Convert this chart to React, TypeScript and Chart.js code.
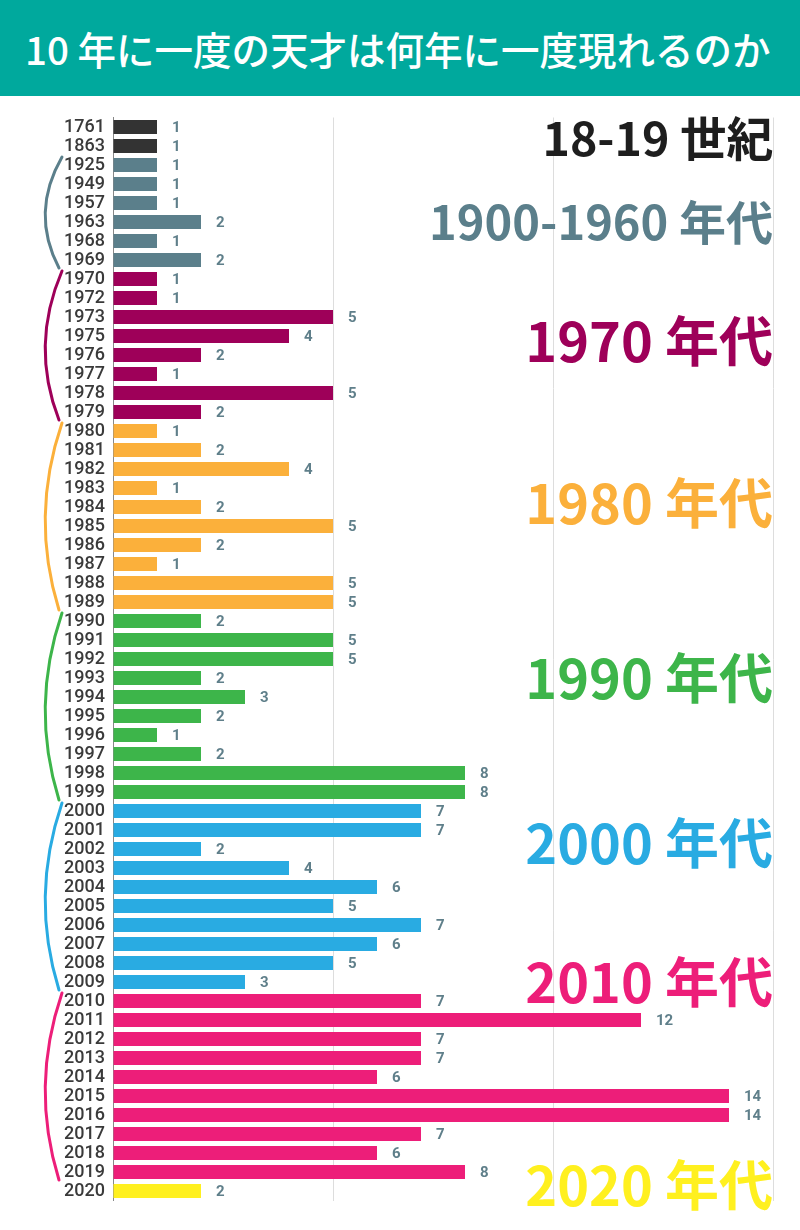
import React, { useEffect, useRef } from "react";
import { Chart, registerables } from "chart.js";

Chart.register(...registerables);

const years = [
  "1761", "1863",
  "1925", "1949", "1957", "1963", "1968", "1969",
  "1970", "1972", "1973", "1975", "1976", "1977", "1978", "1979",
  "1980", "1981", "1982", "1983", "1984", "1985", "1986", "1987", "1988", "1989",
  "1990", "1991", "1992", "1993", "1994", "1995", "1996", "1997", "1998", "1999",
  "2000", "2001", "2002", "2003", "2004", "2005", "2006", "2007", "2008", "2009",
  "2010", "2011", "2012", "2013", "2014", "2015", "2016", "2017", "2018", "2019",
  "2020",
];

const counts = [
  1, 1,
  1, 1, 1, 2, 1, 2,
  1, 1, 5, 4, 2, 1, 5, 2,
  1, 2, 4, 1, 2, 5, 2, 1, 5, 5,
  2, 5, 5, 2, 3, 2, 1, 2, 8, 8,
  7, 7, 2, 4, 6, 5, 7, 6, 5, 3,
  7, 12, 7, 7, 6, 14, 14, 7, 6, 8,
  2,
];

const groupNames = [
  "18-19 世紀",
  "1900-1960 年代",
  "1970 年代",
  "1980 年代",
  "1990 年代",
  "2000 年代",
  "2010 年代",
  "2020 年代",
];
const groupSizes = [2, 6, 8, 10, 10, 10, 10, 1];
const groupColors = [
  "#1e1e1e",
  "#5b7f8b",
  "#9e0059",
  "#fbb03b",
  "#3db54a",
  "#29abe2",
  "#ed1e79",
  "#fff01f",
];

const tickValues = [0, 5, 10, 15];

// decoration settings (not data)
const labelRowAnchors = [0.6, 5.0, 11.3, 19.8, 29.0, 37.7, 45.0, 55.7];
const labelFontSizes = [46.5, 47, 54, 54, 54, 54, 54, 54];
const bracketShown = [false, true, true, true, true, true, true, false];

const barColors: string[] = [];
groupSizes.forEach((n, g) => {
  for (let i = 0; i < n; i++) barColors.push(g === 0 ? "#333333" : groupColors[g]);
});

const CJK = "'Noto Sans CJK JP', 'Noto Sans', sans-serif";

const decoPlugin = {
  id: "deco",
  afterDatasetsDraw(chart: any) {
    const ctx = chart.ctx;
    const y = chart.scales.y;
    const area = chart.chartArea;
    const meta = chart.getDatasetMeta(0);
    // value labels
    ctx.save();
    ctx.font = "bold 15px Roboto, sans-serif";
    ctx.fillStyle = "#5f7f8a";
    ctx.textAlign = "left";
    ctx.textBaseline = "middle";
    meta.data.forEach((bar: any, i: number) => {
      ctx.fillText(String(counts[i]), bar.x + 15, bar.y + 1);
    });
    ctx.restore();

    const p0 = y.getPixelForValue(0);
    const step = y.getPixelForValue(1) - p0;

    // group labels
    ctx.save();
    ctx.textAlign = "right";
    ctx.textBaseline = "middle";
    groupNames.forEach((name, g) => {
      ctx.font = `bold ${labelFontSizes[g]}px ${CJK}`;
      ctx.fillStyle = groupColors[g];
      ctx.fillText(name, area.right, p0 + labelRowAnchors[g] * step);
    });
    ctx.restore();

    // brackets
    ctx.save();
    ctx.lineWidth = 3;
    ctx.lineCap = "round";
    let start = 0;
    groupSizes.forEach((n, g) => {
      const first = start;
      const last = start + n - 1;
      start += n;
      if (!bracketShown[g]) return;
      const top = y.getPixelForValue(first) - 8;
      const bot = y.getPixelForValue(last) + 8;
      ctx.strokeStyle = groupColors[g];
      ctx.beginPath();
      ctx.moveTo(62, top);
      ctx.quadraticCurveTo(30, (top + bot) / 2, 59, bot);
      ctx.stroke();
    });
    ctx.restore();
  },
};

export default function App() {
  const ref = useRef<HTMLCanvasElement>(null);

  useEffect(() => {
    if (!ref.current) return;
    const chart = new Chart(ref.current, {
      type: "bar",
      data: {
        labels: years,
        datasets: [
          {
            data: counts,
            backgroundColor: barColors,
            borderWidth: 0,
            barPercentage: 0.74,
            categoryPercentage: 1,
          },
        ],
      },
      options: {
        indexAxis: "y",
        responsive: false,
        animation: false,
        devicePixelRatio: 1,
        layout: { padding: { left: 0, right: 27, top: 21.5, bottom: 29.5 } },
        plugins: {
          legend: { display: false },
          tooltip: { enabled: false },
        },
        scales: {
          x: {
            min: 0,
            max: 15,
            afterBuildTicks(scale: any) {
              scale.ticks = tickValues.map((v) => ({ value: v }));
            },
            afterFit(scale: any) {
              scale.height = 0;
            },
            ticks: { display: false },
            grid: {
              drawTicks: false,
              color: (c: any) => (c.tick && c.tick.value === 0 ? "rgba(0,0,0,0)" : "#dddddd"),
              lineWidth: 1,
            },
            border: { display: false },
          },
          y: {
            afterFit(scale: any) {
              scale.width = 113;
            },
            grid: { display: false, drawTicks: false },
            border: { display: true, color: "#888888", width: 1 },
            ticks: {
              autoSkip: false,
              padding: 8,
              color: "#3a3a3a",
              font: { family: "Roboto, sans-serif", size: 18, weight: "500" },
            },
          },
        },
      },
      plugins: [decoPlugin],
    });
    return () => chart.destroy();
  }, []);

  return (
    <div style={{ position: "absolute", left: 0, top: 0, width: 800, height: 1230, background: "#fff" }}>
      <div
        style={{
          position: "absolute",
          left: 0,
          top: 0,
          width: 800,
          height: 96,
          background: "#00a99d",
          color: "#fff",
          fontFamily: CJK,
          fontWeight: 500,
          fontSize: 38.5,
          lineHeight: "96px",
          paddingLeft: 25,
          boxSizing: "border-box",
          whiteSpace: "nowrap",
        }}
      >
        10 年に一度の天才は何年に一度現れるのか
      </div>
      <canvas
        ref={ref}
        width={800}
        height={1134}
        style={{ position: "absolute", left: 0, top: 96, width: 800, height: 1134 }}
      />
    </div>
  );
}
